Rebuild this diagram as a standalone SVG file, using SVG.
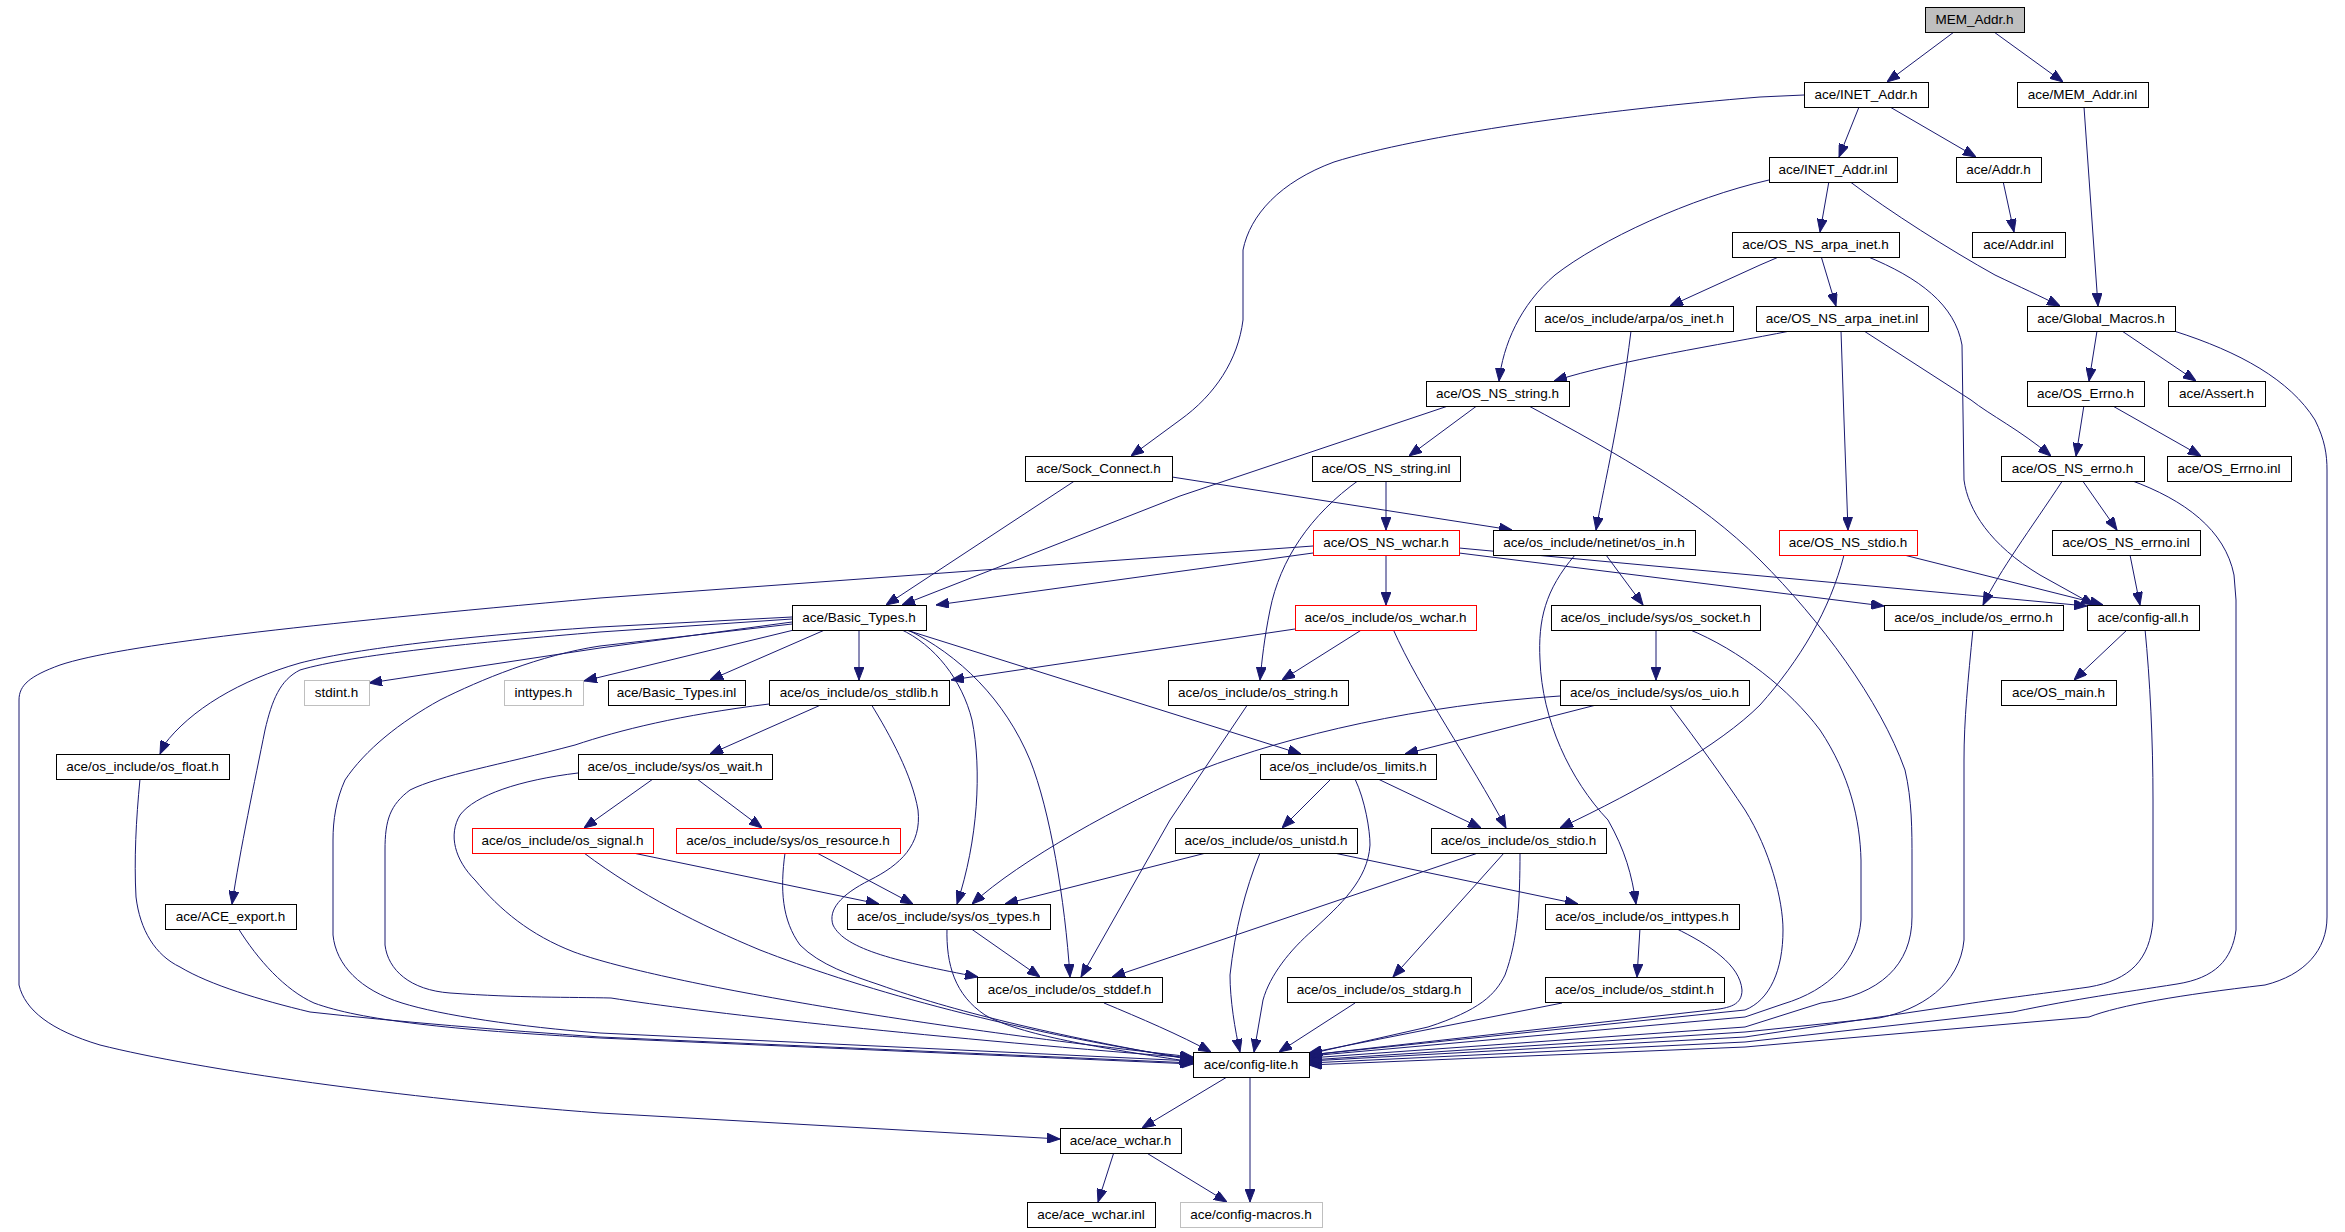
<svg xmlns="http://www.w3.org/2000/svg" width="2345" height="1232" viewBox="0 0 2345 1232">
<defs>
<style>
rect{fill:#fff;stroke:#000;stroke-width:1}
.r rect{stroke:#f00}
.g rect{stroke:#bfbfbf}
.m rect{fill:#bfbfbf}
text{font-family:"Liberation Sans",Arial,sans-serif;font-size:13.5px;text-anchor:middle;fill:#000}
#edges path{fill:none;stroke:#191970;stroke-width:1;marker-end:url(#a)}
</style>
<marker id="a" markerUnits="userSpaceOnUse" markerWidth="13" markerHeight="10" refX="13" refY="5" orient="auto"><path d="M0,0 L13,5 L0,10 z" fill="#191970" stroke="#191970" stroke-width="1"/></marker>
</defs>
<rect x="0" y="0" width="2345" height="1232" style="fill:#fff;stroke:none"/>
<g id="edges">
<path d="M1954,32 L1887,82"/>
<path d="M1994,32 L2063,82"/>
<path d="M1859,107 L1839,157"/>
<path d="M1890,107 L1976,157"/>
<path d="M1804,95 L1760,97 C1600,110 1420,135 1334,162 C1280,182 1250,215 1243,250 L1243,320 C1238,360 1215,395 1180,420 L1131,456"/>
<path d="M2003,181 L2014,232"/>
<path d="M2084,107 L2098,306"/>
<path d="M1829,181 L1820,232"/>
<path d="M1769,180 C1690,198 1600,240 1555,275 C1520,305 1503,345 1499,381"/>
<path d="M1849,181 C1890,212 1950,250 1995,275 C2020,287 2040,296 2060,306"/>
<path d="M1781,256 L1760,265 L1670,306"/>
<path d="M1821,256 L1836,306"/>
<path d="M1866,256 C1920,278 1955,305 1962,345 L1964,480 C1968,510 1990,545 2040,575 L2094,605"/>
<path d="M1790,331 C1720,345 1620,360 1554,381"/>
<path d="M1841,331 L1844,420 L1848,530"/>
<path d="M1864,331 L1971,400 C1990,415 2020,430 2051,456"/>
<path d="M1631,331 C1620,420 1605,480 1596,530"/>
<path d="M2097,331 L2089,381"/>
<path d="M2122,331 L2196,381"/>
<path d="M2174,331 C2240,352 2290,380 2315,420 C2325,440 2327,455 2327,470 L2327,917 C2327,950 2305,975 2265,985 C2180,995 2120,1005 2089,1017 L1745,1047 L1309,1065"/>
<path d="M2084,405 L2076,456"/>
<path d="M2111,405 L2201,456"/>
<path d="M1478,405 L1409,456"/>
<path d="M1451,405 L1180,496 L902,605"/>
<path d="M1527,405 C1620,455 1700,500 1760,560 C1820,620 1880,700 1905,770 C1912,800 1912,830 1912,860 L1912,917 C1912,965 1880,995 1821,1003 L1745,1027 L1309,1058"/>
<path d="M1386,480 L1386,530"/>
<path d="M1359,480 C1310,515 1280,560 1270,610 C1264,640 1262,660 1260,680"/>
<path d="M1076,480 L886,605"/>
<path d="M1172,477 L1512,530"/>
<path d="M2082,480 L2117,530"/>
<path d="M2063,480 C2030,530 2000,570 1983,605"/>
<path d="M2130,480 C2185,500 2225,530 2234,575 L2236,600 L2236,930 C2232,960 2215,978 2177,984 C2120,993 2080,998 2013,1012 L1745,1042 L1309,1063"/>
<path d="M2130,555 L2140,605"/>
<path d="M1904,555 L2103,605"/>
<path d="M1844,555 C1830,610 1800,660 1760,705 C1720,745 1640,790 1560,828"/>
<path d="M1313,553 L936,605"/>
<path d="M1386,555 L1386,605"/>
<path d="M1459,553 L1884,606"/>
<path d="M1459,548 L2087,606"/>
<path d="M1313,546 L600,598 C300,625 120,645 60,665 C30,676 19,685 19,700 L19,985 C25,1010 50,1030 100,1045 C200,1070 400,1098 600,1113 L1060,1139"/>
<path d="M1606,555 L1643,605"/>
<path d="M1575,555 C1545,590 1538,620 1540,660 C1542,720 1570,780 1608,820 C1625,850 1632,875 1636,904"/>
<path d="M792,622 L600,648 L369,683"/>
<path d="M798,629 L584,681"/>
<path d="M827,629 L710,680"/>
<path d="M859,629 L859,680"/>
<path d="M792,617 L600,627 C450,637 350,650 300,663 C240,680 190,710 164,745 L160,754"/>
<path d="M792,619 L600,632 C480,642 350,655 300,670 C280,680 272,700 265,730 C255,780 240,850 232,904"/>
<path d="M792,624 L600,646 C540,655 480,680 440,700 C400,722 365,750 345,780 C336,800 333,820 333,840 L333,935 C336,965 360,990 402,1003 C440,1015 520,1027 600,1033 L1193,1061"/>
<path d="M903,629 L1301,754"/>
<path d="M900,629 C935,645 962,680 972,720 C982,770 978,840 957,904"/>
<path d="M906,629 C960,655 1005,700 1030,760 C1050,810 1065,900 1070,977"/>
<path d="M1295,629 L951,680"/>
<path d="M1363,629 L1282,680"/>
<path d="M1393,629 C1420,690 1470,760 1506,828"/>
<path d="M1656,629 L1656,680"/>
<path d="M1688,629 C1740,650 1790,690 1820,730 C1850,775 1860,820 1861,860 L1861,920 C1858,960 1830,990 1783,1004 L1745,1017 L1309,1056"/>
<path d="M2128,629 L2074,680"/>
<path d="M2145,629 C2150,680 2153,740 2153,800 L2153,920 C2150,960 2130,980 2089,987 C2040,994 1990,1000 1960,1005 L1745,1037 L1309,1061"/>
<path d="M1973,629 C1968,680 1964,720 1964,760 L1964,940 C1960,985 1920,1010 1879,1018 L1745,1032 L1309,1060"/>
<path d="M823,704 L710,754"/>
<path d="M769,704 C680,715 620,730 575,745 C500,765 440,775 410,790 C390,805 385,820 385,850 L385,945 C388,970 410,990 450,993 C520,998 570,997 611,998 C700,1012 900,1035 1193,1058"/>
<path d="M871,704 C890,735 912,775 918,810 C922,845 900,865 870,880 C840,895 828,910 833,925 C845,950 900,962 978,977"/>
<path d="M1248,704 L1170,820 L1081,977"/>
<path d="M1600,704 L1405,754"/>
<path d="M1560,696 C1420,705 1290,735 1200,770 C1120,805 1020,860 972,904"/>
<path d="M1669,704 C1700,745 1725,780 1745,810 C1770,850 1783,900 1783,930 C1783,970 1770,1000 1745,1010 L1309,1055"/>
<path d="M140,779 C136,820 134,860 136,897 C140,930 155,955 180,967 C210,985 260,1000 310,1012 C400,1022 500,1030 600,1037 L1193,1063"/>
<path d="M653,779 L584,828"/>
<path d="M697,779 L762,828"/>
<path d="M578,773 C520,780 475,795 460,815 C448,835 455,860 475,880 C500,910 530,935 574,952 C650,980 900,1025 1193,1057"/>
<path d="M1331,779 L1282,828"/>
<path d="M1378,779 L1481,828"/>
<path d="M1355,779 C1365,800 1370,830 1370,845 C1368,880 1340,905 1313,930 C1290,950 1270,975 1263,1000 L1254,1052"/>
<path d="M633,853 L879,904"/>
<path d="M584,853 C640,895 700,925 760,950 C850,985 1000,1030 1193,1059"/>
<path d="M817,853 L913,904"/>
<path d="M785,853 C780,890 782,920 800,945 C820,965 850,975 880,985 C950,1010 1050,1035 1193,1060"/>
<path d="M1206,853 L1005,904"/>
<path d="M1334,853 L1578,904"/>
<path d="M1260,853 C1245,890 1235,930 1230,975 C1230,1000 1235,1030 1240,1052"/>
<path d="M1478,853 L1112,977"/>
<path d="M1504,853 L1393,977"/>
<path d="M1520,853 C1520,900 1518,940 1505,975 C1495,995 1480,1010 1428,1027 L1309,1054"/>
<path d="M238,928 C258,960 285,990 314,1003 C360,1020 450,1030 600,1038 L1193,1064"/>
<path d="M970,928 L1040,977"/>
<path d="M947,928 C946,965 955,995 985,1015 C1020,1035 1100,1048 1193,1062"/>
<path d="M1640,928 L1637,977"/>
<path d="M1675,928 C1710,945 1740,965 1742,990 C1742,1005 1730,1008 1711,1010 L1309,1055"/>
<path d="M1104,1003 C1140,1018 1180,1035 1211,1052"/>
<path d="M1355,1003 L1279,1052"/>
<path d="M1562,1003 L1309,1053"/>
<path d="M1227,1077 L1142,1128"/>
<path d="M1250,1077 L1250,1202"/>
<path d="M1114,1152 L1098,1202"/>
<path d="M1145,1152 L1227,1202"/>
</g>
<g id="MEM_Addr_h" class="m"><rect x="1925.5" y="7.5" width="99" height="25"/><text x="1974.5" y="24">MEM_Addr.h</text></g>
<g id="INET_Addr_h"><rect x="1804.5" y="82.5" width="124" height="25"/><text x="1866" y="99">ace/INET_Addr.h</text></g>
<g id="MEM_Addr_inl"><rect x="2017.5" y="82.5" width="131" height="25"/><text x="2082.5" y="99">ace/MEM_Addr.inl</text></g>
<g id="INET_Addr_inl"><rect x="1769.5" y="157.5" width="128" height="25"/><text x="1833" y="174">ace/INET_Addr.inl</text></g>
<g id="Addr_h"><rect x="1956.5" y="157.5" width="85" height="25"/><text x="1998.5" y="174">ace/Addr.h</text></g>
<g id="OS_NS_arpa_inet_h"><rect x="1732.5" y="232.5" width="167" height="25"/><text x="1815.5" y="249">ace/OS_NS_arpa_inet.h</text></g>
<g id="Addr_inl"><rect x="1972.5" y="232.5" width="93" height="25"/><text x="2018.5" y="249">ace/Addr.inl</text></g>
<g id="os_inet_h"><rect x="1535.5" y="306.5" width="198" height="25"/><text x="1634" y="323">ace/os_include/arpa/os_inet.h</text></g>
<g id="OS_NS_arpa_inet_inl"><rect x="1756.5" y="306.5" width="172" height="25"/><text x="1842" y="323">ace/OS_NS_arpa_inet.inl</text></g>
<g id="Global_Macros_h"><rect x="2027.5" y="306.5" width="148" height="25"/><text x="2101" y="323">ace/Global_Macros.h</text></g>
<g id="OS_NS_string_h"><rect x="1426.5" y="381.5" width="143" height="25"/><text x="1497.5" y="398">ace/OS_NS_string.h</text></g>
<g id="OS_Errno_h"><rect x="2027.5" y="381.5" width="117" height="25"/><text x="2085.5" y="398">ace/OS_Errno.h</text></g>
<g id="Assert_h"><rect x="2168.5" y="381.5" width="97" height="25"/><text x="2216.5" y="398">ace/Assert.h</text></g>
<g id="Sock_Connect_h"><rect x="1025.5" y="456.5" width="147" height="25"/><text x="1098.5" y="473">ace/Sock_Connect.h</text></g>
<g id="OS_NS_string_inl"><rect x="1312.5" y="456.5" width="148" height="25"/><text x="1386" y="473">ace/OS_NS_string.inl</text></g>
<g id="OS_NS_errno_h"><rect x="2001.5" y="456.5" width="143" height="25"/><text x="2072.5" y="473">ace/OS_NS_errno.h</text></g>
<g id="OS_Errno_inl"><rect x="2167.5" y="456.5" width="124" height="25"/><text x="2229" y="473">ace/OS_Errno.inl</text></g>
<g id="OS_NS_wchar_h" class="r"><rect x="1313.5" y="530.5" width="146" height="25"/><text x="1386" y="547">ace/OS_NS_wchar.h</text></g>
<g id="os_in_h"><rect x="1493.5" y="530.5" width="202" height="25"/><text x="1594" y="547">ace/os_include/netinet/os_in.h</text></g>
<g id="OS_NS_stdio_h" class="r"><rect x="1779.5" y="530.5" width="138" height="25"/><text x="1848" y="547">ace/OS_NS_stdio.h</text></g>
<g id="OS_NS_errno_inl"><rect x="2052.5" y="530.5" width="148" height="25"/><text x="2126" y="547">ace/OS_NS_errno.inl</text></g>
<g id="Basic_Types_h"><rect x="792.5" y="605.5" width="134" height="25"/><text x="859" y="622">ace/Basic_Types.h</text></g>
<g id="os_wchar_h" class="r"><rect x="1295.5" y="605.5" width="181" height="25"/><text x="1385.5" y="622">ace/os_include/os_wchar.h</text></g>
<g id="os_socket_h"><rect x="1551.5" y="605.5" width="209" height="25"/><text x="1655.5" y="622">ace/os_include/sys/os_socket.h</text></g>
<g id="os_errno_h"><rect x="1884.5" y="605.5" width="179" height="25"/><text x="1973.5" y="622">ace/os_include/os_errno.h</text></g>
<g id="config_all_h"><rect x="2087.5" y="605.5" width="112" height="25"/><text x="2143" y="622">ace/config-all.h</text></g>
<g id="stdint_h" class="g"><rect x="304.5" y="680.5" width="65" height="25"/><text x="336.5" y="697">stdint.h</text></g>
<g id="inttypes_h" class="g"><rect x="504.5" y="680.5" width="79" height="25"/><text x="543.5" y="697">inttypes.h</text></g>
<g id="Basic_Types_inl"><rect x="608.5" y="680.5" width="137" height="25"/><text x="676.5" y="697">ace/Basic_Types.inl</text></g>
<g id="os_stdlib_h"><rect x="769.5" y="680.5" width="180" height="25"/><text x="859" y="697">ace/os_include/os_stdlib.h</text></g>
<g id="os_string_h"><rect x="1168.5" y="680.5" width="180" height="25"/><text x="1258" y="697">ace/os_include/os_string.h</text></g>
<g id="os_uio_h"><rect x="1560.5" y="680.5" width="189" height="25"/><text x="1654.5" y="697">ace/os_include/sys/os_uio.h</text></g>
<g id="OS_main_h"><rect x="2001.5" y="680.5" width="115" height="25"/><text x="2058.5" y="697">ace/OS_main.h</text></g>
<g id="os_float_h"><rect x="56.5" y="754.5" width="173" height="25"/><text x="142.5" y="771">ace/os_include/os_float.h</text></g>
<g id="os_wait_h"><rect x="578.5" y="754.5" width="194" height="25"/><text x="675" y="771">ace/os_include/sys/os_wait.h</text></g>
<g id="os_limits_h"><rect x="1260.5" y="754.5" width="176" height="25"/><text x="1348" y="771">ace/os_include/os_limits.h</text></g>
<g id="os_signal_h" class="r"><rect x="472.5" y="828.5" width="181" height="25"/><text x="562.5" y="845">ace/os_include/os_signal.h</text></g>
<g id="os_resource_h" class="r"><rect x="676.5" y="828.5" width="224" height="25"/><text x="788" y="845">ace/os_include/sys/os_resource.h</text></g>
<g id="os_unistd_h"><rect x="1175.5" y="828.5" width="182" height="25"/><text x="1266" y="845">ace/os_include/os_unistd.h</text></g>
<g id="os_stdio_h"><rect x="1431.5" y="828.5" width="175" height="25"/><text x="1518.5" y="845">ace/os_include/os_stdio.h</text></g>
<g id="ACE_export_h"><rect x="165.5" y="904.5" width="131" height="25"/><text x="230.5" y="921">ace/ACE_export.h</text></g>
<g id="os_types_h"><rect x="847.5" y="904.5" width="203" height="25"/><text x="948.5" y="921">ace/os_include/sys/os_types.h</text></g>
<g id="os_inttypes_h"><rect x="1545.5" y="904.5" width="194" height="25"/><text x="1642" y="921">ace/os_include/os_inttypes.h</text></g>
<g id="os_stddef_h"><rect x="977.5" y="977.5" width="185" height="25"/><text x="1069.5" y="994">ace/os_include/os_stddef.h</text></g>
<g id="os_stdarg_h"><rect x="1287.5" y="977.5" width="184" height="25"/><text x="1379" y="994">ace/os_include/os_stdarg.h</text></g>
<g id="os_stdint_h"><rect x="1545.5" y="977.5" width="179" height="25"/><text x="1634.5" y="994">ace/os_include/os_stdint.h</text></g>
<g id="config_lite_h"><rect x="1193.5" y="1052.5" width="116" height="25"/><text x="1251" y="1069">ace/config-lite.h</text></g>
<g id="ace_wchar_h"><rect x="1060.5" y="1128.5" width="121" height="25"/><text x="1120.5" y="1145">ace/ace_wchar.h</text></g>
<g id="ace_wchar_inl"><rect x="1027.5" y="1202.5" width="128" height="25"/><text x="1091" y="1219">ace/ace_wchar.inl</text></g>
<g id="config_macros_h" class="g"><rect x="1180.5" y="1202.5" width="142" height="25"/><text x="1251" y="1219">ace/config-macros.h</text></g>
</svg>
